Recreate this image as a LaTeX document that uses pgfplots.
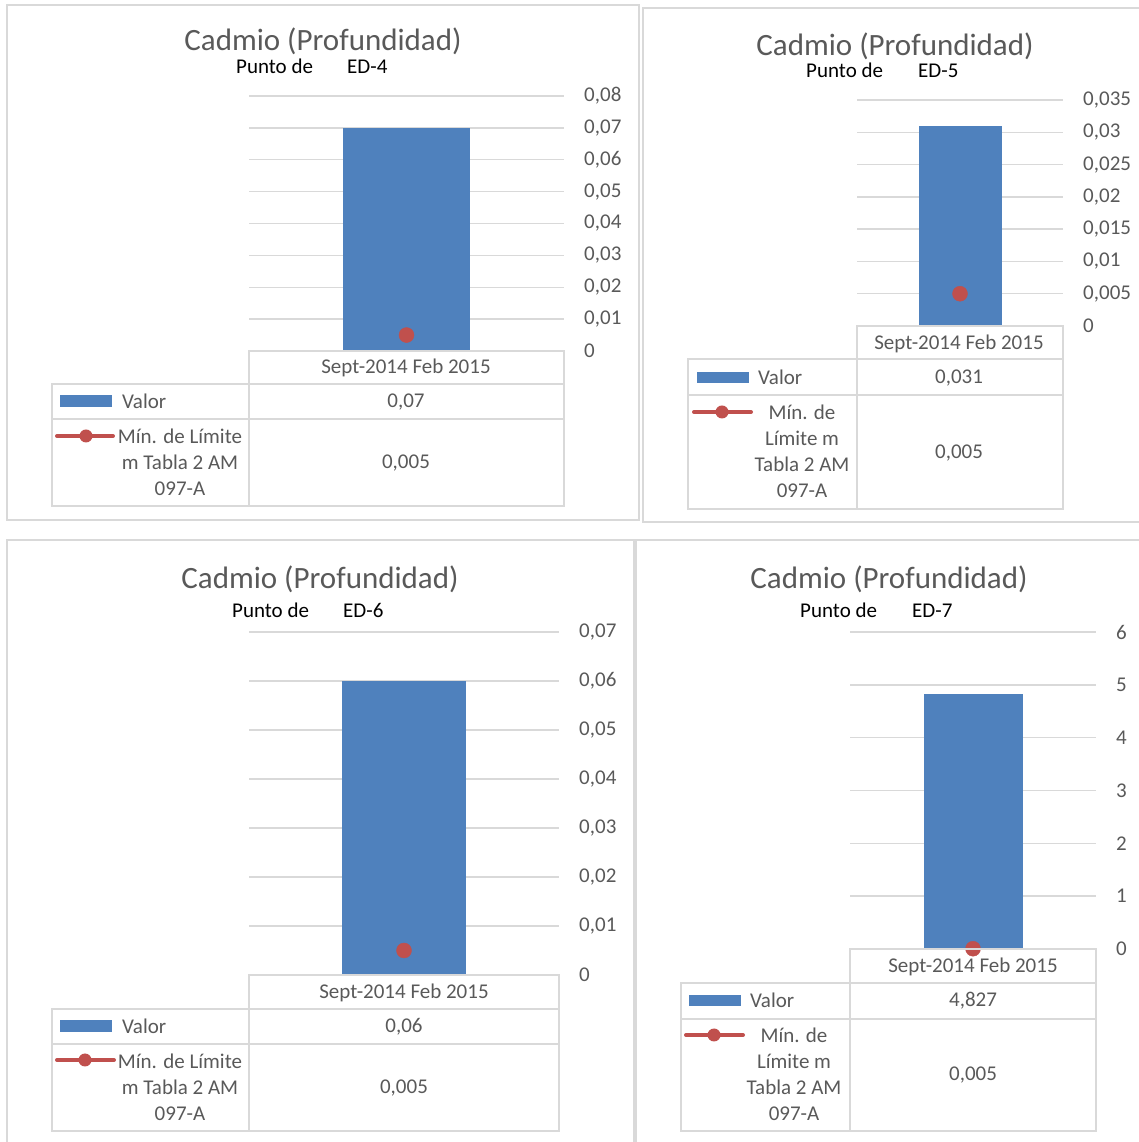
\documentclass[border=0pt]{standalone}
\usepackage{pgfplots}
\pgfplotsset{compat=1.18}
\usepackage{fontspec}
\setmainfont{Carlito}
\definecolor{barblue}{HTML}{4F81BD}
\definecolor{dotred}{HTML}{C0504D}
\definecolor{gridgray}{HTML}{D9D9D9}
\definecolor{txtgray}{HTML}{595959}
\pgfplotsset{
 panel/.style={scale only axis, xmin=-0.5, xmax=0.5, ymin=0,
  axis line style={draw=none}, xtick=\empty, major tick length=0pt,
  ymajorgrids, grid style={draw=gridgray, line width=1.4pt},
  yticklabel pos=right, scaled y ticks=false,
  /pgf/number format/fixed, /pgf/number format/use comma,
  /pgf/number format/precision=3, /pgf/number format/assume math mode=true,
  yticklabel style={anchor=west, inner sep=0pt, xshift=20pt, font=\fontsize{21}{24}\selectfont, text=txtgray},
  clip=false, anchor=south west}
}
\newcommand{\tf}{\fontsize{21}{26}\selectfont}
\newcommand{\ttf}{\fontsize{31}{36}\selectfont}
\begin{document}
\begin{tikzpicture}[x=1pt,y=1pt]
\useasboundingbox (0,0) rectangle (1138,1142);
% panel borders
\draw[gridgray, line width=1.4pt] (7,{1142-5}) rectangle (639,{1142-520});
\draw[gridgray, line width=1.4pt] (643,{1142-8}) rectangle (1150,{1142-522});
\draw[gridgray, line width=1.4pt] (7,{1142-540}) rectangle (634,-10);
\draw[gridgray, line width=1.4pt] (636,{1142-540}) rectangle (1150,-10);

% ---------------- Panel 1
\begin{axis}[panel, at={(249pt,791pt)}, width=315pt, height=255pt, ymax=0.08,
  ytick={0,0.01,0.02,0.03,0.04,0.05,0.06,0.07,0.08}]
\addplot[ybar, bar width=127pt, fill=barblue, draw=none] coordinates {(0,0.07)};
\addplot[only marks, mark=*, mark size=7.5pt, mark options={fill=dotred, draw=dotred}] coordinates {(0,0.005)};
\end{axis}
\node[text=txtgray, anchor=base, inner sep=0] at (323,{1142-51}) {\ttf Cadmio (Profundidad)};
\node[anchor=base west, inner sep=0] at (236,{1142-74}) {\tf Punto de};
\node[anchor=base west, inner sep=0] at (347,{1142-74}) {\tf ED-4};
\draw[gridgray, line width=1.6pt] (249,{1142-351}) rectangle (564,{1142-384});
\draw[gridgray, line width=1.6pt] (52,{1142-384}) rectangle (564,{1142-506});
\draw[gridgray, line width=1.6pt] (52,{1142-419}) -- (564,{1142-419});
\draw[gridgray, line width=1.6pt] (249,{1142-384}) -- (249,{1142-506});
\fill[barblue] (60,{1142-395}) rectangle (112,{1142-407});
\draw[dotred, line width=4pt, line cap=round] (57,{1142-436}) -- (113,{1142-436});
\fill[dotred] (86,{1142-436}) circle (6.5pt);
\node[text=txtgray, anchor=west, inner sep=0, font=\tf] at (122,{1142-401}) {Valor};
\node[text=txtgray, align=center, inner sep=0, font=\tf] at (180,{1142-462}) {Mín. de Límite\\m Tabla 2 AM\\097-A};
\node[text=txtgray, inner sep=0, font=\tf] at (406,{1142-368}) {Sept-2014 Feb 2015};
\node[text=txtgray, inner sep=0, font=\tf] at (406,{1142-402}) {0,07};
\node[text=txtgray, inner sep=0, font=\tf] at (406,{1142-463}) {0,005};

% ---------------- Panel 2
\begin{axis}[panel, at={(857pt,816pt)}, width=206pt, height=226pt, ymax=0.035,
  ytick={0,0.005,0.01,0.015,0.02,0.025,0.03,0.035}]
\addplot[ybar, bar width=83pt, fill=barblue, draw=none] coordinates {(0,0.031)};
\addplot[only marks, mark=*, mark size=7.5pt, mark options={fill=dotred, draw=dotred}] coordinates {(0,0.005)};
\end{axis}
\node[text=txtgray, anchor=base, inner sep=0] at (895,{1142-56}) {\ttf Cadmio (Profundidad)};
\node[anchor=base west, inner sep=0] at (806,{1142-78}) {\tf Punto de};
\node[anchor=base west, inner sep=0] at (918,{1142-78}) {\tf ED-5};
\draw[gridgray, line width=1.6pt] (857,{1142-326}) rectangle (1063,{1142-359});
\draw[gridgray, line width=1.6pt] (688,{1142-359}) rectangle (1063,{1142-509});
\draw[gridgray, line width=1.6pt] (688,{1142-395}) -- (1063,{1142-395});
\draw[gridgray, line width=1.6pt] (857,{1142-359}) -- (857,{1142-509});
\fill[barblue] (697,{1142-372}) rectangle (749,{1142-383});
\draw[dotred, line width=4pt, line cap=round] (694,{1142-412}) -- (751,{1142-412});
\fill[dotred] (722,{1142-412}) circle (6.5pt);
\node[text=txtgray, anchor=west, inner sep=0, font=\tf] at (758,{1142-377}) {Valor};
\node[text=txtgray, align=center, inner sep=0, font=\tf] at (802,{1142-451}) {Mín. de\\Límite m\\Tabla 2 AM\\097-A};
\node[text=txtgray, inner sep=0, font=\tf] at (959,{1142-344}) {Sept-2014 Feb 2015};
\node[text=txtgray, inner sep=0, font=\tf] at (959,{1142-378}) {0,031};
\node[text=txtgray, inner sep=0, font=\tf] at (959,{1142-453}) {0,005};

% ---------------- Panel 3
\begin{axis}[panel, at={(249pt,167pt)}, width=310pt, height=343pt, ymax=0.07,
  ytick={0,0.01,0.02,0.03,0.04,0.05,0.06,0.07}]
\addplot[ybar, bar width=124pt, fill=barblue, draw=none] coordinates {(0,0.06)};
\addplot[only marks, mark=*, mark size=7.5pt, mark options={fill=dotred, draw=dotred}] coordinates {(0,0.005)};
\end{axis}
\node[text=txtgray, anchor=base, inner sep=0] at (320,{1142-589}) {\ttf Cadmio (Profundidad)};
\node[anchor=base west, inner sep=0] at (232,{1142-618}) {\tf Punto de};
\node[anchor=base west, inner sep=0] at (343,{1142-618}) {\tf ED-6};
\draw[gridgray, line width=1.6pt] (249,{1142-975}) rectangle (559,{1142-1009});
\draw[gridgray, line width=1.6pt] (52,{1142-1009}) rectangle (559,{1142-1131});
\draw[gridgray, line width=1.6pt] (52,{1142-1044}) -- (559,{1142-1044});
\draw[gridgray, line width=1.6pt] (249,{1142-1009}) -- (249,{1142-1131});
\fill[barblue] (60,{1142-1020}) rectangle (112,{1142-1032});
\draw[dotred, line width=4pt, line cap=round] (57,{1142-1060}) -- (114,{1142-1060});
\fill[dotred] (85,{1142-1060}) circle (6.5pt);
\node[text=txtgray, anchor=west, inner sep=0, font=\tf] at (122,{1142-1026}) {Valor};
\node[text=txtgray, align=center, inner sep=0, font=\tf] at (180,{1142-1087}) {Mín. de Límite\\m Tabla 2 AM\\097-A};
\node[text=txtgray, inner sep=0, font=\tf] at (404,{1142-993}) {Sept-2014 Feb 2015};
\node[text=txtgray, inner sep=0, font=\tf] at (404,{1142-1027}) {0,06};
\node[text=txtgray, inner sep=0, font=\tf] at (404,{1142-1088}) {0,005};

% ---------------- Panel 4
\begin{axis}[panel, at={(850pt,193pt)}, width=246pt, height=317pt, ymax=6,
  ytick={0,1,2,3,4,5,6}]
\addplot[ybar, bar width=99pt, fill=barblue, draw=none] coordinates {(0,4.827)};
\addplot[only marks, mark=*, mark size=7.5pt, mark options={fill=dotred, draw=dotred}] coordinates {(0,0.005)};
\end{axis}
\node[text=txtgray, anchor=base, inner sep=0] at (889,{1142-589}) {\ttf Cadmio (Profundidad)};
\node[anchor=base west, inner sep=0] at (800,{1142-618}) {\tf Punto de};
\node[anchor=base west, inner sep=0] at (912,{1142-618}) {\tf ED-7};
\draw[gridgray, line width=1.6pt] (850,{1142-949}) rectangle (1096,{1142-983});
\draw[gridgray, line width=1.6pt] (681,{1142-983}) rectangle (1096,{1142-1131});
\draw[gridgray, line width=1.6pt] (681,{1142-1019}) -- (1096,{1142-1019});
\draw[gridgray, line width=1.6pt] (850,{1142-983}) -- (850,{1142-1131});
\fill[barblue] (689,{1142-995}) rectangle (741,{1142-1006});
\draw[dotred, line width=4pt, line cap=round] (686,{1142-1035}) -- (743,{1142-1035});
\fill[dotred] (714,{1142-1035}) circle (6.5pt);
\node[text=txtgray, anchor=west, inner sep=0, font=\tf] at (750,{1142-1000}) {Valor};
\node[text=txtgray, align=center, inner sep=0, font=\tf] at (794,{1142-1074}) {Mín. de\\Límite m\\Tabla 2 AM\\097-A};
\node[text=txtgray, inner sep=0, font=\tf] at (973,{1142-967}) {Sept-2014 Feb 2015};
\node[text=txtgray, inner sep=0, font=\tf] at (973,{1142-1001}) {4,827};
\node[text=txtgray, inner sep=0, font=\tf] at (973,{1142-1075}) {0,005};
\end{tikzpicture}
\end{document}
